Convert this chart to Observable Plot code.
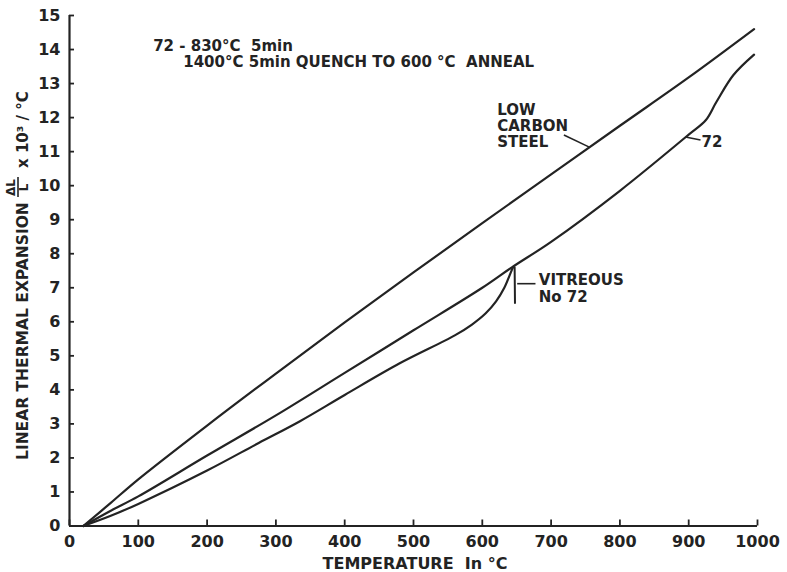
<!DOCTYPE html>
<html><head><meta charset="utf-8">
<script src="https://cdn.jsdelivr.net/npm/d3@7"></script>
<script src="https://cdn.jsdelivr.net/npm/@observablehq/plot@0.6"></script>
<style>body{margin:0;background:#fff} svg{display:block}</style>
</head><body><div id="chart"></div>
<script>
// ---- data ----
const xTicks = [0, 100, 200, 300, 400, 500, 600, 700, 800, 900, 1000];
const yTicks = [0, 1, 2, 3, 4, 5, 6, 7, 8, 9, 10, 11, 12, 13, 14, 15];

const steelT = [20, 60, 100, 200, 300, 400, 500, 600, 700, 800, 900, 995];
const steelV = [0, 0.68, 1.37, 2.95, 4.48, 5.98, 7.45, 8.9, 10.33, 11.76, 13.18, 14.6];

const c72T = [20, 60, 100, 200, 300, 400, 500, 600, 643, 700, 800, 900, 925, 940, 965, 995];
const c72V = [0, 0.45, 0.87, 2.07, 3.25, 4.5, 5.75, 7.0, 7.6, 8.35, 9.85, 11.5, 11.93, 12.45, 13.25, 13.85];

const vitT = [20, 60, 100, 200, 275, 335, 400, 480, 560, 585, 605, 620, 632, 640, 644.5];
const vitV = [0, 0.3, 0.65, 1.63, 2.44, 3.08, 3.85, 4.78, 5.6, 5.92, 6.25, 6.6, 7.0, 7.38, 7.6];

const dropT = [644.5, 647, 647.5];
const dropV = [7.6, 7.6, 6.55];

const noteText = ["72 - 830°C  5min", "1400°C 5min QUENCH TO 600 °C  ANNEAL", "LOW\nCARBON\nSTEEL", "72", "VITREOUS\nNo 72"];
const noteT = [121.6, 165.3, 621.7, 918.6, 682.1];
const noteV = [14.3, 13.82, 12.435, 11.49, 7.42];

const leadT1 = [718.6, 895.3, 650.7];
const leadV1 = [11.49, 11.43, 7.12];
const leadT2 = [754.8, 917.2, 677.3];
const leadV2 = [11.14, 11.34, 7.12];

const xLabel = "TEMPERATURE  In °C";
const yLabelMain = "LINEAR THERMAL EXPANSION";
const yLabelNum = "ΔL";
const yLabelDen = "L";
const yLabelTail = "x 10³ / °C";

// ---- build ----
const ink = "#232323";
const font = "DejaVu Sans";

const curves = [
  ...steelT.map((t, i) => ({T: t, V: steelV[i], s: "steel"})),
  ...c72T.map((t, i) => ({T: t, V: c72V[i], s: "72"})),
  ...vitT.map((t, i) => ({T: t, V: vitV[i], s: "vitreous"}))
];
const drop = dropT.map((t, i) => ({T: t, V: dropV[i]}));
const notes = noteText.map((t, i) => ({text: t, T: noteT[i], V: noteV[i]}));
const leads = leadT1.map((t, i) => ({x1: t, y1: leadV1[i], x2: leadT2[i], y2: leadV2[i]}));

const W = 787, H = 572, mL = 69, mR = 30, mT = 15, mB = 46.5;

const svg = Plot.plot({
  width: W, height: H,
  marginLeft: mL, marginRight: mR, marginTop: mT, marginBottom: mB,
  style: {fontFamily: font, fontWeight: "bold", color: ink, background: "#fff", overflow: "visible"},
  x: {domain: [0, 1000]},
  y: {domain: [0, 15]},
  marks: [
    Plot.axisX(xTicks, {tickSize: 0, tickPadding: 9.5, fontSize: 16, label: null, fill: ink, tickFormat: d => String(d)}),
    Plot.axisY(yTicks, {tickSize: 0, tickPadding: 9, fontSize: 16, label: null, fill: ink, tickFormat: d => String(d)}),
    Plot.ruleX(xTicks, {x: d => d, insetTop: (H - mT - mB) - 6, stroke: ink, strokeWidth: 1.8}),
    Plot.ruleY(yTicks, {y: d => d, insetRight: (W - mL - mR) - 5, stroke: ink, strokeWidth: 1.8}),
    Plot.ruleX([0], {stroke: ink, strokeWidth: 2.2}),
    Plot.ruleY([0], {stroke: ink, strokeWidth: 2.2}),
    Plot.line(curves, {x: "T", y: "V", z: "s", curve: "catmull-rom", stroke: ink, strokeWidth: 2.2}),
    Plot.line(drop, {x: "T", y: "V", curve: "linear", stroke: ink, strokeWidth: 2}),
    Plot.link(leads, {x1: "x1", y1: "y1", x2: "x2", y2: "y2", stroke: ink, strokeWidth: 1.6}),
    Plot.text(notes, {x: "T", y: "V", text: "text", textAnchor: "start", lineAnchor: "top", lineHeight: 1.1, fontSize: 15, fill: ink})
  ]
});

const s = d3.select(svg);
s.append("text")
  .attr("x", 415).attr("y", 569)
  .attr("text-anchor", "middle")
  .attr("font-size", 16).attr("font-weight", "bold").attr("fill", ink)
  .text(xLabel);

const g = s.append("g").attr("transform", "rotate(-90)")
  .attr("font-weight", "bold").attr("fill", ink);
g.append("text").attr("x", -460).attr("y", 28).attr("font-size", 15.5).attr("text-anchor", "start").text(yLabelMain);
g.append("text").attr("x", -187.5).attr("y", 15).attr("font-size", 12).attr("text-anchor", "middle").text(yLabelNum);
g.append("line").attr("x1", -197).attr("x2", -177).attr("y1", 18).attr("y2", 18).attr("stroke", ink).attr("stroke-width", 1.6);
g.append("text").attr("x", -187.5).attr("y", 28).attr("font-size", 12).attr("text-anchor", "middle").text(yLabelDen);
g.append("text").attr("x", -168).attr("y", 28).attr("font-size", 15).attr("text-anchor", "start").text(yLabelTail);

document.getElementById("chart").appendChild(svg);
</script>
</body></html>
